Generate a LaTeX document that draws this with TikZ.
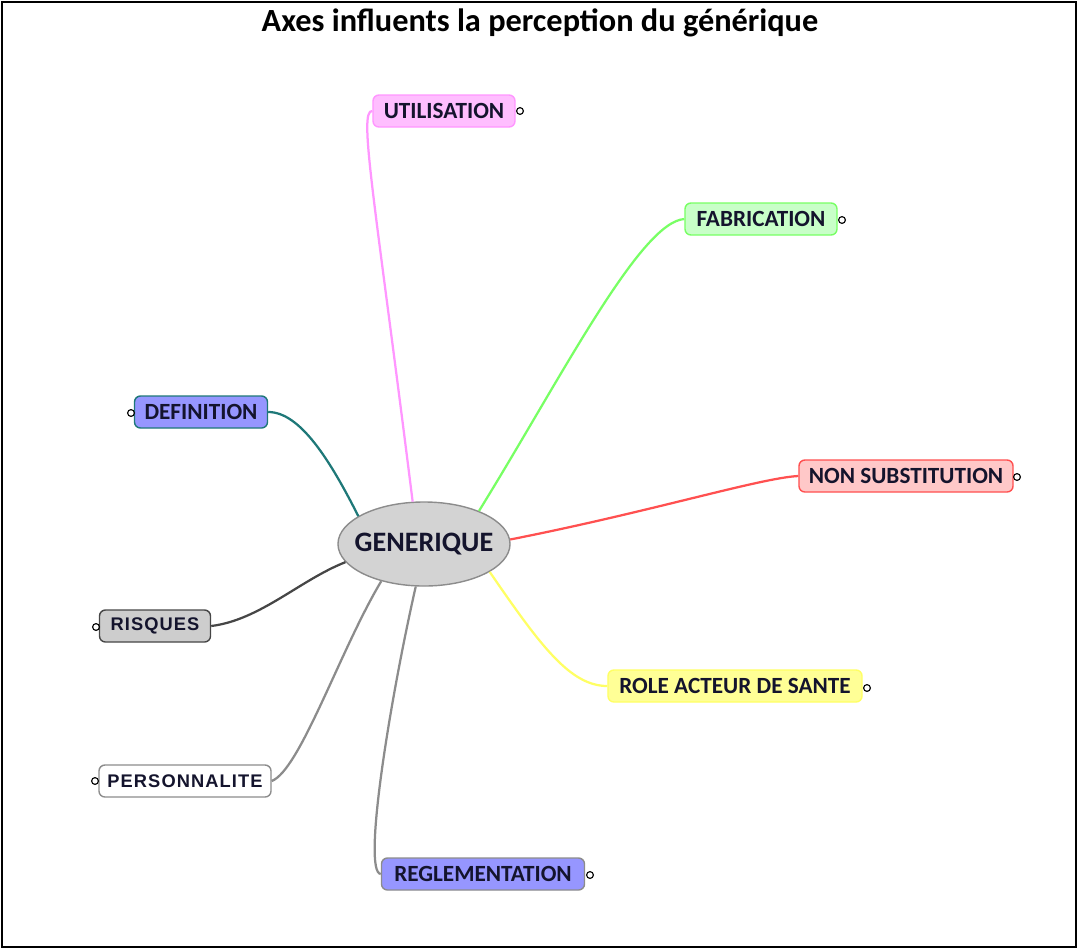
\documentclass[tikz,border=0pt]{standalone}
\usepackage{fontspec}
\setmainfont{Carlito}
\newfontfamily\spacedfont[LetterSpace=6]{Liberation Sans}
\usepackage{tikz}
\usetikzlibrary{shapes.geometric}

\definecolor{pinkfill}{RGB}{255,190,255}
\definecolor{pinkline}{RGB}{255,150,255}
\definecolor{greenfill}{RGB}{200,255,200}
\definecolor{greenline}{RGB}{120,255,100}
\definecolor{bluefill}{RGB}{150,150,255}
\definecolor{tealline}{RGB}{30,120,120}
\definecolor{redfill}{RGB}{255,200,200}
\definecolor{redline}{RGB}{255,80,80}
\definecolor{greyfill}{RGB}{205,205,205}
\definecolor{darkline}{RGB}{70,70,70}
\definecolor{yellowfill}{RGB}{255,255,150}
\definecolor{yellowline}{RGB}{255,255,100}
\definecolor{midline}{RGB}{140,140,140}
\definecolor{genfill}{RGB}{211,211,211}
\definecolor{textcol}{RGB}{20,20,45}

\begin{document}
\begin{tikzpicture}[x=0.025cm, y=-0.025cm,
  main/.style = {draw, rounded corners=0.15cm, line width=1pt, minimum height=0.8cm,
                 inner sep=0pt, text=textcol, font=\fontsize{16.5}{16.5}\selectfont\bfseries},
  knob/.style = {draw=black, fill=white, circle, line width=0.8pt, minimum size=0.17cm, inner sep=0pt},
  link/.style = {line width=1.6pt}]
\useasboundingbox (0,0) rectangle (1078,949);
\draw[line width=0.8pt] (2,2) rectangle (1076,947);
\node (title) at (540,23) {\fontsize{23}{23}\selectfont\bfseries Axes influents la perception du générique};

\node[ellipse, draw=midline, fill=genfill, line width=1pt, minimum width=4.3cm, minimum height=2.1cm,
      inner xsep=-0.25cm, inner ysep=0pt, text=textcol, font=\fontsize{20}{20}\selectfont\bfseries] (0) at (424,544) {GENERIQUE};

\node[main, draw=pinkline, fill=pinkfill, minimum width=3.55cm] (1) at (444,111) {UTILISATION};
\node[main, draw=greenline, fill=greenfill, minimum width=3.8cm] (2) at (761,219) {FABRICATION};
\node[main, draw=tealline, fill=bluefill, minimum width=3.325cm] (3) at (201,412) {DEFINITION};
\node[main, draw=redline, fill=redfill, minimum width=5.35cm] (4) at (906,476) {NON SUBSTITUTION};
\node[main, draw=darkline, fill=greyfill, minimum width=2.775cm,
      font=\fontsize{13}{13}\selectfont\spacedfont\bfseries] (5) at (155,626) {RISQUES};
\node[main, draw=yellowline, fill=yellowfill, minimum width=6.35cm] (6) at (735,686) {ROLE ACTEUR DE SANTE};
\node[main, draw=midline, fill=white, minimum width=4.3cm,
      font=\fontsize{13}{13}\selectfont\spacedfont\bfseries] (7) at (185,781) {PERSONNALITE};
\node[main, draw=midline, fill=bluefill, minimum width=5.075cm] (8) at (483,874) {REGLEMENTATION};

% little end circles
\node[knob] (1k) at (520,111) {};
\node[knob] (2k) at (842,220) {};
\node[knob] (3k) at (131,413) {};
\node[knob] (4k) at (1017,477) {};
\node[knob] (5k) at (96,627) {};
\node[knob] (6k) at (867,688) {};
\node[knob] (7k) at (95,781) {};
\node[knob] (8k) at (590,875) {};

\draw[link, pinkline] (0.105) .. controls (375,200) and (358,110) .. (1.west);
\draw[link, greenline] (0.31) .. controls (560,380) and (640,222) .. (2.west);
\draw[link, tealline] (3.east) .. controls (300,412) and (330,460) .. (0.157);
\draw[link, redline] (0.3) .. controls (650,512) and (760,478) .. (4.west);
\draw[link, darkline] (5.east) .. controls (260,620) and (300,580) .. (0.193);
\draw[link, yellowline] (0.337) .. controls (540,645) and (570,686) .. (6.west);
\draw[link, midline] (7.east) .. controls (300,770) and (340,650) .. (0.221);
\draw[link, midline] (0.259) .. controls (390,700) and (362,872) .. (8.west);
\end{tikzpicture}
\end{document}
